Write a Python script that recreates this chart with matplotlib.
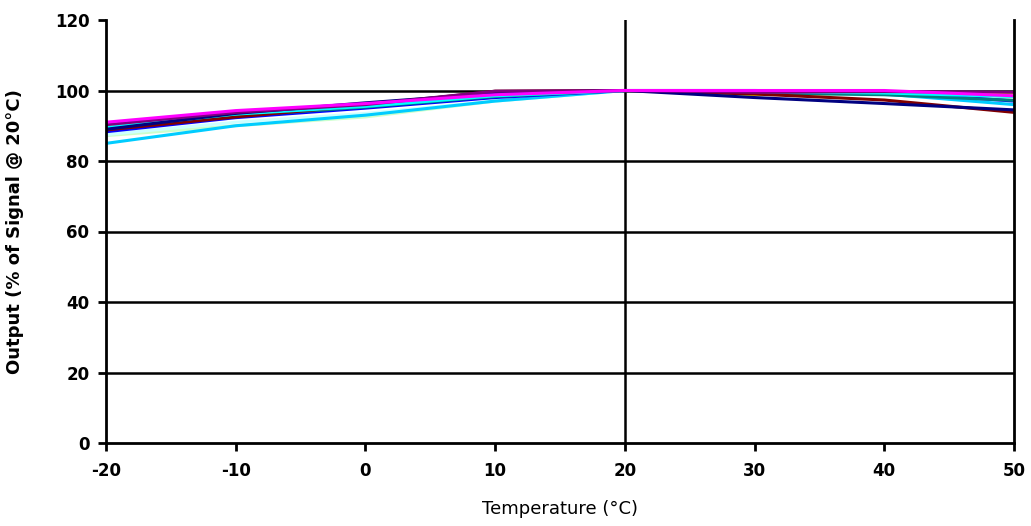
import matplotlib
matplotlib.use("Agg")
import matplotlib.pyplot as plt

temps = [-20, -10, 0, 10, 20, 30, 40, 50]

navy       = [89.0, 93.5, 96.5, 99.2, 100.0, 98.0, 96.3, 94.5]
magenta    = [91.0, 94.3, 96.3, 98.8, 100.0, 100.0, 100.0, 98.5]
yellow     = [89.5, 93.0, 95.5, 98.5, 100.0, 98.8, 99.3, 99.0]
cyan       = [89.5, 93.3, 95.5, 98.5, 100.0, 99.7, 99.3, 98.3]
purple     = [90.3, 93.8, 96.0, 99.8, 100.0, 99.5, 99.7, 99.5]
dark_red   = [88.8, 92.5, 95.8, 99.8, 100.0, 99.0, 97.3, 93.8]
teal       = [89.0, 92.8, 95.3, 98.3, 100.0, 99.3, 98.8, 97.2]
blue       = [88.3, 92.3, 95.0, 98.0, 100.0, 100.0, 99.7, 97.0]
sky_blue   = [85.0, 90.0, 93.0, 97.0, 100.0, 99.5, 99.0, 96.0]
light_cyan = [87.5, 91.0, 93.5, 97.0, 100.0, 99.0, 98.8, 97.3]
light_green= [87.2, 90.0, 92.5, 97.0, 100.0, 99.8, 99.2, 97.8]

series = [
    (light_green, "#CCFFCC"),
    (light_cyan, "#CCFFFF"),
    (sky_blue, "#00CCFF"),
    (yellow, "#FFFF00"),
    (blue, "#0000FF"),
    (teal, "#008080"),
    (dark_red, "#800000"),
    (cyan, "#00FFFF"),
    (navy, "#000080"),
    (purple, "#800080"),
    (magenta, "#FF00FF"),
]

x_ticks = [-20, -10, 0, 10, 20, 30, 40, 50]
y_ticks = [0, 20, 40, 60, 80, 100, 120]
grid_vals = [20, 40, 60, 80, 100]

fig = plt.figure(figsize=(10.31, 5.26), dpi=100)
ax = fig.add_axes([106/1031, 1 - 443/526, (1014 - 106)/1031, (443 - 20)/526])

for yv in grid_vals:
    ax.axhline(yv, color="black", lw=1.8, zorder=1)
ax.axvline(20, color="black", lw=1.8, zorder=1)

for vals, col in series:
    ax.plot(temps, vals, color=col, lw=2.2, solid_capstyle="butt", zorder=2)

ax.set_xlim(-20, 50)
ax.set_ylim(0, 120)
ax.set_xticks(x_ticks)
ax.set_yticks(y_ticks)
ax.set_xticklabels([str(t) for t in x_ticks])
ax.set_yticklabels([str(t) for t in y_ticks])

for s in ["left", "bottom", "right"]:
    ax.spines[s].set_linewidth(2.0)
    ax.spines[s].set_color("black")
ax.spines["top"].set_visible(False)

ax.tick_params(axis="both", direction="out", length=6, width=2, labelsize=12,
               colors="black")
ax.tick_params(axis="x", pad=8)
ax.tick_params(axis="y", pad=6)
for lab in ax.get_xticklabels() + ax.get_yticklabels():
    lab.set_fontweight("bold")

ax.set_xlabel("Temperature (°C)", fontsize=13, labelpad=14)
ax.set_ylabel("Output (% of Signal @ 20°C)", fontsize=13, fontweight="bold", labelpad=22)

fig.savefig("out.png", dpi=100)
